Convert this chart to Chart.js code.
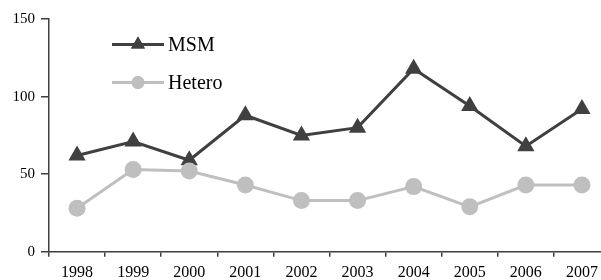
<!DOCTYPE html>
<html>
<head>
<meta charset="utf-8">
<script src="https://cdn.jsdelivr.net/npm/chart.js@4/dist/chart.umd.min.js"></script>
<style>
  html, body { margin: 0; padding: 0; background: #ffffff; overflow: hidden; }
  #wrap { position: relative; width: 620px; height: 288px; }
</style>
</head>
<body>
<div id="wrap"><canvas id="chart"></canvas></div>
<script>
// Years on the x axis
const years = ['1998', '1999', '2000', '2001', '2002', '2003', '2004', '2005', '2006', '2007'];
// Series values
const msmValues = [62, 71, 59, 88, 75, 80, 118, 94, 68, 92];
const heteroValues = [28, 53, 52, 43, 33, 33, 42, 29, 43, 43];
// y axis ticks
const yTicks = [0, 50, 100, 150];

const darkGrey = '#404040';
const lightGrey = '#bfbfbf';
const textColor = '#000000';
const serif = '"Liberation Serif", "Times New Roman", serif';

// legend drawn by hand: line with the marker in the middle, then the label
const lineLegend = {
  id: 'lineLegend',
  afterDraw(chart) {
    const ctx = chart.ctx;
    const items = [
      { label: 'MSM', color: darkGrey, style: 'triangle', y: 44.5 },
      { label: 'Hetero', color: lightGrey, style: 'circle', y: 82.5 }
    ];
    ctx.save();
    items.forEach(item => {
      ctx.strokeStyle = item.color;
      ctx.lineWidth = 3;
      ctx.beginPath();
      ctx.moveTo(112, item.y);
      ctx.lineTo(164, item.y);
      ctx.stroke();
      ctx.fillStyle = item.color;
      Chart.helpers.drawPoint(ctx, { pointStyle: item.style, radius: item.style === 'triangle' ? 8 : 6.5, borderWidth: 0 }, 138, item.y);
      ctx.fill();
      ctx.fillStyle = textColor;
      ctx.font = '20px ' + serif;
      ctx.textBaseline = 'middle';
      ctx.textAlign = 'left';
      ctx.fillText(item.label, 168, item.y + 1);
    });
    ctx.restore();
  }
};

const ctx = document.getElementById('chart').getContext('2d');
new Chart(ctx, {
  type: 'line',
  data: {
    labels: years,
    datasets: [
      {
        label: 'Hetero',
        data: heteroValues,
        borderColor: lightGrey,
        backgroundColor: lightGrey,
        borderWidth: 3,
        pointStyle: 'circle',
        pointRadius: 8.5,
        pointBorderWidth: 0,
        tension: 0
      },
      {
        label: 'MSM',
        data: msmValues,
        borderColor: darkGrey,
        backgroundColor: darkGrey,
        borderWidth: 3,
        pointStyle: 'triangle',
        pointRadius: 10,
        pointBorderWidth: 0,
        tension: 0
      }
    ]
  },
  options: {
    responsive: true,
    maintainAspectRatio: false,
    animation: false,
    layout: { padding: { left: 6.5, right: 8, top: 19, bottom: 0 } },
    plugins: {
      legend: { display: false },
      tooltip: { enabled: false }
    },
    scales: {
      x: {
        offset: true,
        grid: {
          offset: true,
          drawOnChartArea: false,
          drawTicks: true,
          tickLength: 5,
          color: darkGrey,
          lineWidth: 1.5
        },
        border: { color: darkGrey, width: 1.5 },
        ticks: {
          color: textColor,
          font: { family: serif, size: 16 },
          padding: 6,
          maxRotation: 0,
          autoSkip: false
        }
      },
      y: {
        min: 0,
        max: 150,
        afterBuildTicks: (axis) => { axis.ticks = yTicks.map(v => ({ value: v })); },
        grid: {
          drawOnChartArea: false,
          drawTicks: true,
          tickLength: 8,
          color: darkGrey,
          lineWidth: 1.5
        },
        border: { color: darkGrey, width: 1.5 },
        ticks: {
          color: textColor,
          font: { family: serif, size: 15 },
          padding: 6
        }
      }
    }
  },
  plugins: [lineLegend]
});
</script>
</body>
</html>
